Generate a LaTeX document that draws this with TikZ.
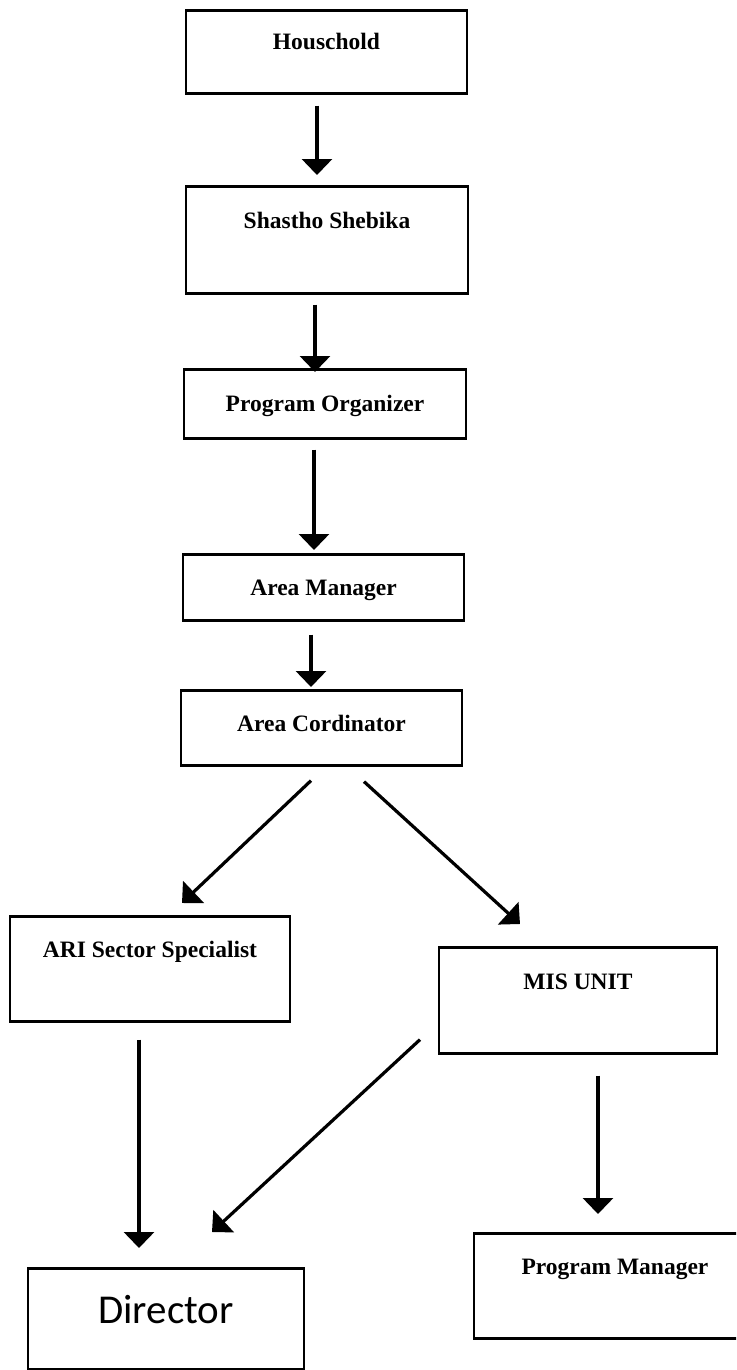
\documentclass[tikz,border=0pt]{standalone}
\usepackage{fontspec}
\setmainfont{Liberation Serif}
\newfontfamily\dirfont{Carlito}
\usetikzlibrary{arrows.meta}

\tikzset{
  unit/.style={draw, line width=1.3pt, inner sep=0pt, anchor=north, minimum width=141pt,
    font=\bfseries\fontsize{11.75}{14}\selectfont},
  flow/.style={line width=1.6pt, -{Triangle[length=8pt,width=15pt]}},
}

\begin{document}
\begin{tikzpicture}[x=0.5pt, y=-0.5pt]
  \useasboundingbox (0,0) rectangle (736,1370);
  \clip (0,0) rectangle (736,1370);
  \node[unit, minimum width=140.5pt, text height=19.5pt, text depth=22pt] (hh) at (326.5,9) {Houschold};
  \node[unit, text height=21pt, text depth=32.5pt] (ss) at (327,185) {Shastho Shebika};
  \node[unit, text height=21pt, text depth=13.5pt] (po) at (325,368) {Program Organizer};
  \node[unit, minimum width=140.5pt, text height=20.5pt, text depth=12.5pt] (am) at (323.5,553) {Area Manager};
  \node[unit, minimum width=140.5pt, text height=20.5pt, text depth=17pt] (ac) at (321.5,689) {Area Cordinator};
  \node[unit, minimum width=140pt, text height=20.5pt, text depth=32pt] (ari) at (150,915) {ARI Sector Specialist};
  \node[unit, minimum width=139pt, text height=21pt, text depth=32pt] (mis) at (578,946) {MIS UNIT};
  \node[unit, minimum width=138pt, text height=27.5pt, text depth=23pt,
    font=\dirfont\fontsize{20.5}{24}\selectfont] (dir) at (166,1267) {Director};
  \node[unit, text height=20.5pt, text depth=32pt] (pm) at (615,1232) {Program Manager};
  \draw[flow, shorten <=5.5pt, shorten >=5pt] ([shift={(-9.5,0)}]hh.south) -- ([shift={(-10,0)}]ss.north);
  \draw[flow, shorten <=5pt, shorten >=-2pt] ([shift={(-12,0)}]ss.south) -- ([shift={(-10,0)}]po.north);
  \draw[flow, shorten <=5pt, shorten >=1.5pt] ([shift={(-11,0)}]po.south) -- ([shift={(-9.5,0)}]am.north);
  \draw[flow, shorten <=6.5pt, shorten >=1pt] ([shift={(-12.5,0)}]am.south) -- ([shift={(-10.5,0)}]ac.north);
  \draw[flow] ([shift={(-10.5,14)}]ac.south) -- ([shift={(32,-12)}]ari.north);
  \draw[flow] ([shift={(42.5,15)}]ac.south) -- ([shift={(-58,-22)}]mis.north);
  \draw[flow, shorten <=8.5pt, shorten >=9.5pt] ([shift={(-11,0)}]ari.south) -- ([shift={(-27,0)}]dir.north);
  \draw[flow] ([shift={(-158,-15)}]mis.south) -- ([shift={(46,-35)}]dir.north);
  \draw[flow, shorten <=10.5pt, shorten >=9pt] ([shift={(20,0)}]mis.south) -- ([shift={(-17,0)}]pm.north);
\end{tikzpicture}
\end{document}
